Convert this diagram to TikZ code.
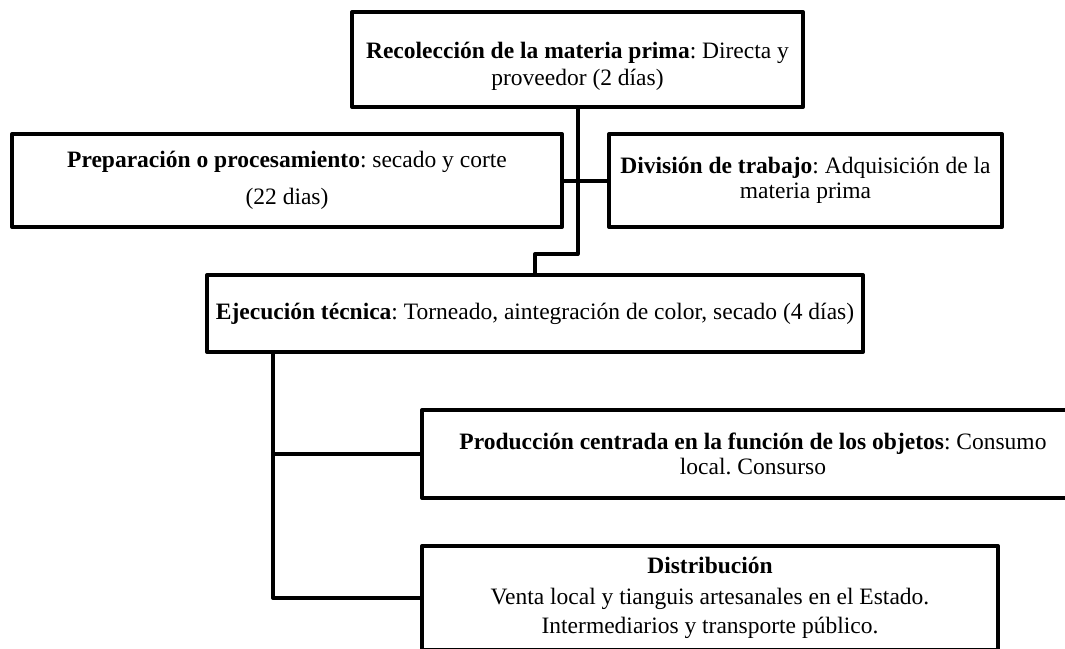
\documentclass[tikz,border=0pt]{standalone}
\usepackage{fontspec}
\setmainfont{Liberation Serif}
\frenchspacing
\tikzset{
  caja/.style={draw, line width=4pt, line join=round, align=center, inner sep=0pt,
    font=\fontsize{23.5}{25}\selectfont},
  conector/.style={line width=4pt, line join=round}
}

\begin{document}
\begin{tikzpicture}[x=1pt,y=-1pt]
		%%%%% START %%%%%
		\useasboundingbox (0,0) rectangle (1065,648);
		\clip (0,0) rectangle (1065,648);
		
		\node[caja, minimum width=451pt, minimum height=95pt] (recoleccion) at (577.5,59.5)
			{\rule{0pt}{30pt}\textbf{Recolección de la materia prima}: Directa y\\[2pt]proveedor (2 días)};
		
		\node[caja, minimum width=550pt, minimum height=93pt] (preparacion) at (287,180.5)
			{\textbf{Preparación o procesamiento}: secado y corte\\[12pt](22 dias)};
		\node[caja, minimum width=393pt, minimum height=93pt] (division) at (805.5,180.5)
			{\textbf{División de trabajo}: Adquisición de la\\materia prima};
		
		\node[caja, minimum width=656pt, minimum height=77pt] (ejecucion) at (535,313.5)
			{\textbf{Ejecución técnica}: Torneado, aintegración de color, secado (4 días)};
		
		\node[caja, minimum width=662pt, minimum height=88pt] (produccion) at (753,454)
			{\textbf{Producción centrada en la función de los objetos}: Consumo\\local. Consurso};
		\node[caja, minimum width=576pt, minimum height=104pt] (distribucion) at (710,598)
			{\textbf{Distribución}\\[6pt]Venta local y tianguis artesanales en el Estado.\\[4pt]Intermediarios y transporte público.};
		
		% conectores
		\draw[conector] (recoleccion.south) -- ++(0,145) -| (ejecucion.north);
		\draw[conector] (preparacion.east) -- (division.west);
		
		\coordinate (tronco) at (273,352);
		\draw[conector] (tronco) |- (produccion.west);
		\draw[conector] (tronco) |- (distribucion.west);
		
		%%%%% END %%%%%
\end{tikzpicture}
\end{document}
